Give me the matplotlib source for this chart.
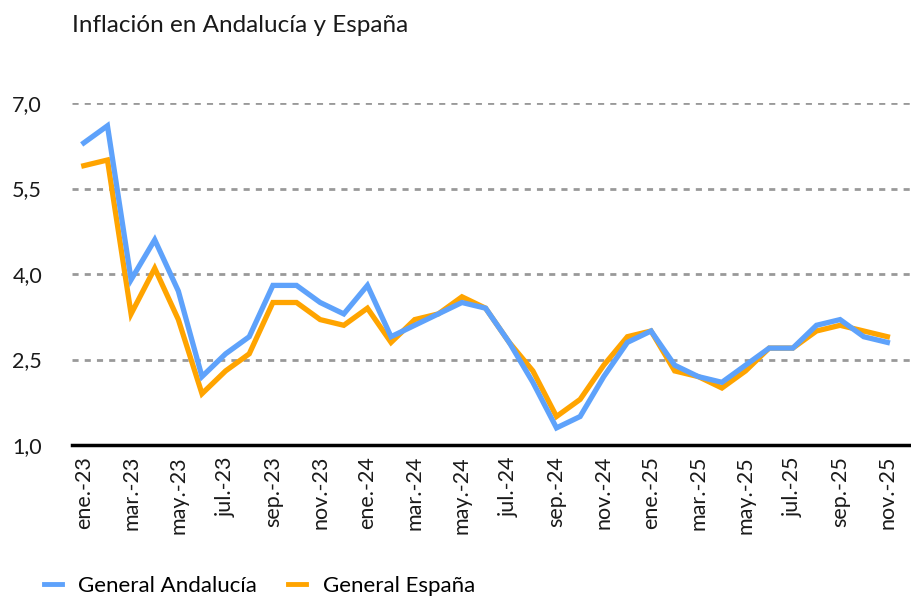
import matplotlib
matplotlib.use("Agg")
import matplotlib.pyplot as plt
from matplotlib.lines import Line2D

plt.rcParams['font.family'] = ['Lato', 'DejaVu Sans']

months = ["ene.-23", "feb.-23", "mar.-23", "abr.-23", "may.-23", "jun.-23", "jul.-23", "ago.-23",
          "sep.-23", "oct.-23", "nov.-23", "dic.-23",
          "ene.-24", "feb.-24", "mar.-24", "abr.-24", "may.-24", "jun.-24", "jul.-24", "ago.-24",
          "sep.-24", "oct.-24", "nov.-24", "dic.-24",
          "ene.-25", "feb.-25", "mar.-25", "abr.-25", "may.-25", "jun.-25", "jul.-25", "ago.-25",
          "sep.-25", "oct.-25", "nov.-25"]

andalucia = [6.3, 6.6, 3.9, 4.6, 3.7, 2.2, 2.6, 2.9, 3.8, 3.8, 3.5, 3.3,
             3.8, 2.9, 3.1, 3.3, 3.5, 3.4, 2.8, 2.1, 1.3, 1.5, 2.2, 2.8,
             3.0, 2.4, 2.2, 2.1, 2.4, 2.7, 2.7, 3.1, 3.2, 2.9, 2.8]

espana = [5.9, 6.0, 3.3, 4.1, 3.2, 1.9, 2.3, 2.6, 3.5, 3.5, 3.2, 3.1,
          3.4, 2.8, 3.2, 3.3, 3.6, 3.4, 2.8, 2.3, 1.5, 1.8, 2.4, 2.9,
          3.0, 2.3, 2.2, 2.0, 2.3, 2.7, 2.7, 3.0, 3.1, 3.0, 2.9]

yticks = [1.0, 2.5, 4.0, 5.5, 7.0]
ytick_labels = ["1,0", "2,5", "4,0", "5,5", "7,0"]

BLUE = "#5EA2FB"
ORANGE = "#FFA400"
TEXT = "#1a1a1a"

W, H = 911, 598
fig = plt.figure(figsize=(W / 100, H / 100), dpi=100)
left, right, top, bottom = 72, 911, 103, 445
ax = fig.add_axes([left / W, 1 - bottom / H, (right - left) / W, (bottom - top) / H])

x = list(range(len(months)))
ax.plot(x, espana, color=ORANGE, lw=3.8, solid_joinstyle="miter", clip_on=False, zorder=3)
ax.plot(x, andalucia, color=BLUE, lw=3.8, solid_joinstyle="miter", clip_on=False, zorder=4)

ax.set_xlim(-0.5, 35)
ax.set_ylim(1.0, 7.0)

for yv in yticks[1:]:
    ax.axhline(yv, color="#999999", lw=2, ls=(0, (2.2, 2.2)), zorder=1)

ax.set_yticks(yticks)
ax.set_yticklabels(ytick_labels, fontsize=15.5, color=TEXT)
ax.set_xticks(x[::2])
ax.set_xticklabels(months[::2], rotation=90, fontsize=15.5, color=TEXT)
ax.tick_params(axis="x", length=0, pad=8)
ax.tick_params(axis="y", length=0, pad=43)
for lab in ax.get_yticklabels():
    lab.set_horizontalalignment("left")

for s in ["top", "right", "left"]:
    ax.spines[s].set_visible(False)
ax.spines["bottom"].set_linewidth(2.5)
ax.spines["bottom"].set_color("black")

fig.text(72 / W, 1 - 25 / H, "Inflación en Andalucía y España", fontsize=17.5,
         color=TEXT, va="center", ha="left")

handles = [Line2D([0], [0], color=BLUE, lw=3.5),
           Line2D([0], [0], color=ORANGE, lw=3.5)]
fig.legend(handles, ["General Andalucía", "General España"], loc="center left",
           bbox_to_anchor=(44 / W, 1 - 586 / H), ncol=2, frameon=False, fontsize=16,
           handlelength=0.8, handletextpad=0.75, columnspacing=1.4,
           borderpad=0, borderaxespad=0)

fig.savefig("out.png", dpi=100, facecolor="white")
